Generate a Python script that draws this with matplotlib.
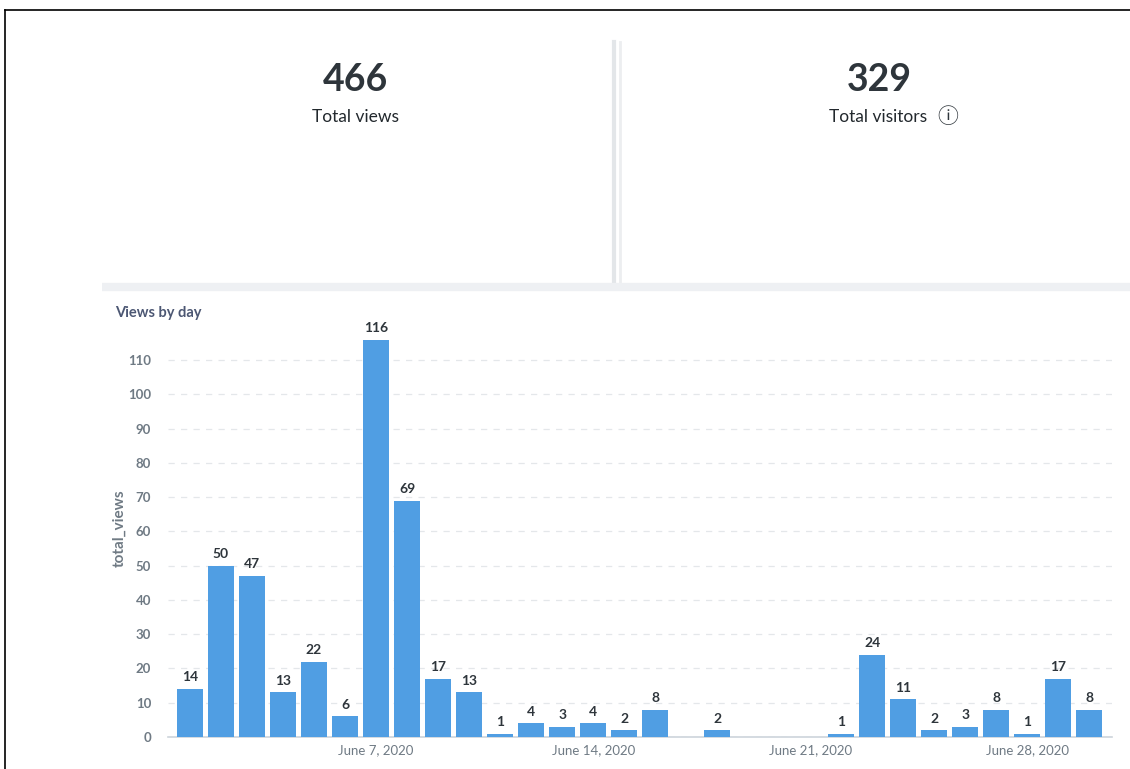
import matplotlib.pyplot as plt
from matplotlib.lines import Line2D
import pandas as pd

plt.rcParams['font.family'] = ['Lato', 'DejaVu Sans']

# data
days = ['2020-06-01', '2020-06-02', '2020-06-03', '2020-06-04', '2020-06-05', '2020-06-06',
        '2020-06-07', '2020-06-08', '2020-06-09', '2020-06-10', '2020-06-11', '2020-06-12',
        '2020-06-13', '2020-06-14', '2020-06-15', '2020-06-16', '2020-06-18', '2020-06-22',
        '2020-06-23', '2020-06-24', '2020-06-25', '2020-06-26', '2020-06-27', '2020-06-28',
        '2020-06-29', '2020-06-30']
views = [14, 50, 47, 13, 22, 6, 116, 69, 17, 13, 1, 4, 3, 4, 2, 8, 2, 1, 24, 11, 2, 3, 8, 1, 17, 8]
total_views = 466
total_visitors = 329
tick_days = ['2020-06-07', '2020-06-14', '2020-06-21', '2020-06-28']
tick_labels = ['June 7, 2020', 'June 14, 2020', 'June 21, 2020', 'June 28, 2020']

W, H = 1130, 769
fig = plt.figure(figsize=(W / 100, H / 100), dpi=100)

def fx(px):
    return px / W

def fy(py):
    return 1 - py / H

# outer frame (top + left)
fig.add_artist(Line2D([fx(5), 1], [fy(10), fy(10)], color='black', lw=1.2))
fig.add_artist(Line2D([fx(5), fx(5)], [fy(10), 0], color='black', lw=1.2))

# card borders
fig.add_artist(Line2D([fx(614), fx(614)], [fy(42), fy(284)], color='#e3e6e9', lw=3))
fig.add_artist(Line2D([fx(620), fx(620)], [fy(42), fy(284)], color='#eceef0', lw=2))
fig.add_artist(Line2D([fx(102), 1], [fy(287), fy(287)], color='#eef0f3', lw=6,
                      solid_capstyle='butt'))

# scalar cards
fig.text(fx(355), fy(80), str(total_views), ha='center', va='center',
         fontsize=27, fontweight='bold', color='#2e353b')
fig.text(fx(355), fy(117), 'Total views', ha='center', va='center',
         fontsize=12.5, color='#22282d')
fig.text(fx(879), fy(80), str(total_visitors), ha='center', va='center',
         fontsize=27, fontweight='bold', color='#2e353b')
fig.text(fx(878), fy(117), 'Total visitors', ha='center', va='center',
         fontsize=12.5, color='#22282d')
fig.text(fx(948), fy(117), '\u24d8', ha='center', va='center',
         fontsize=15, color='#2e353b', family=['Noto Sans CJK SC', 'DejaVu Sans'])

fig.text(fx(115), fy(313), 'Views by day', ha='left', va='center',
         fontsize=10.5, fontweight='bold', color='#4c5773')

# bar chart
ax = fig.add_axes([fx(168), fy(737), fx(1112) - fx(168), (737 - 319) / H])
x = pd.to_datetime(days)
bars = ax.bar(x, views, width=0.84, color='#509ee3', zorder=3)
ax.bar_label(bars, padding=4, fontsize=10, fontweight='bold', color='#2e353b')

start = pd.Timestamp('2020-06-01') - pd.Timedelta(hours=17)
end = pd.Timestamp('2020-06-30') + pd.Timedelta(hours=17.5)
ax.set_xlim(start, end)
ax.set_ylim(0, 122)
ax.set_yticks(range(0, 111, 10))
ax.set_xticks(pd.to_datetime(tick_days))
ax.set_xticklabels(tick_labels)
ax.tick_params(axis='both', length=0, labelsize=9.5, colors='#6f7a84')
ax.tick_params(axis='y', pad=12)
ax.tick_params(axis='x', pad=5)
for lbl in ax.get_yticklabels():
    lbl.set_fontweight('bold')

ax.grid(axis='y', color='#e4e7ea', linestyle=(0, (5, 5)), lw=0.9, zorder=0)
for s in ['top', 'right', 'left']:
    ax.spines[s].set_visible(False)
ax.spines['bottom'].set_color('#cdd4db')
ax.spines['bottom'].set_linewidth(1.2)
ax.set_ylabel('total_views', fontsize=11, fontweight='bold', color='#6f7a84', labelpad=1)

fig.savefig('out.png', dpi=100)
